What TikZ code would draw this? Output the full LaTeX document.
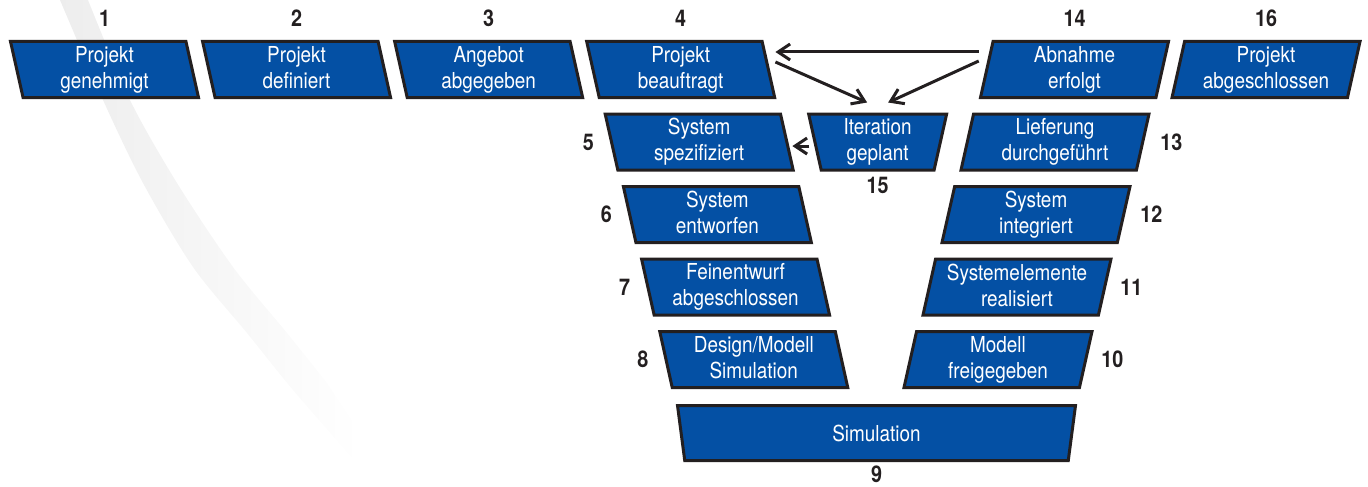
\documentclass[tikz,border=0pt]{standalone}
\usepackage{fontspec}
\setmainfont{TeX Gyre Heros}[FakeStretch=0.86]
\usepackage{tikz}
\usetikzlibrary{positioning,shapes.geometric,arrows.meta}
\definecolor{vblue}{HTML}{0450A4}
\definecolor{ink}{HTML}{231F20}
\newcommand\boxfont{\fontsize{22}{26}\selectfont}
\newcommand\numfont{\bfseries\fontsize{23}{23}\selectfont}
\newcommand\topstrut{\rule{0pt}{26pt}}
\newcommand\botstrut{\rule[-4.5pt]{0pt}{4.5pt}}
\newcommand\linetop{\rule{0pt}{22pt}}
\newcommand\linebot{\rule[-5pt]{0pt}{5pt}}
\tikzstyle{milestone} = [trapezium, trapezium stretches body, draw=ink, line width=3pt, fill=vblue, text=white, align=center, inner sep=0pt, minimum width=188pt, minimum height=56pt, font=\boxfont]
\tikzstyle{twolines} = [execute at begin node=\topstrut, execute at end node=\botstrut]
\tikzstyle{leanl} = [twolines, trapezium left angle=105, trapezium right angle=75]
\tikzstyle{leanr} = [twolines, trapezium left angle=75, trapezium right angle=105]
\tikzstyle{funnel} = [trapezium left angle=105, trapezium right angle=105]
\tikzstyle{num} = [text=ink, inner sep=0pt, font=\numfont]
\tikzstyle{arrow} = [line width=3pt, draw=ink, -{Straight Barb[length=12pt,width=16pt]}]

\begin{document}
\begin{tikzpicture}[x=1pt,y=-1pt]
    \useasboundingbox (0,0) rectangle (1368,487);

    % grey swoosh in the background
    \shade[left color=black!7, right color=white, draw=none]
      plot[smooth] coordinates {(60,0) (103,100) (143,183) (193,267) (247,333) (293,390) (360,467)}
      -- (360,433)
      -- plot[smooth] coordinates {(327,383) (287,333) (233,267) (177,183) (130,100) (88,0)}
      -- cycle;

    % top row
    \node (b1) [milestone, leanl] at (104.5,69.5) {Projekt\\genehmigt};
    \node (n1) [num, above=13pt of b1] {1};

    \node (b2) [milestone, leanl, right=13.5pt of b1] {Projekt\\definiert};
    \node (n2) [num, above=13pt of b2] {2};

    \node (b3) [milestone, leanl, right=13.5pt of b2] {Angebot\\abgegeben};
    \node (n3) [num, above=13pt of b3] {3};

    \node (b4) [milestone, leanl, right=13.5pt of b3] {Projekt\\beauftragt};
    \node (n4) [num, above=13pt of b4] {4};

    \node (b14) [milestone, leanr] at (1074.5,69.5) {Abnahme\\erfolgt};
    \node (n14) [num, above=13pt of b14] {14};

    \node (b16) [milestone, leanr, right=13pt of b14] {Projekt\\abgeschlossen};
    \node (n16) [num, above=13pt of b16] {16};

    % left branch of the V
    \node (b5) [milestone, leanl, below=13.5pt of b4, xshift=18.5pt] {System\\spezifiziert};
    \node (n5) [num, left=16pt of b5] {5};

    \node (b6) [milestone, leanl, below=13.5pt of b5, xshift=18.2pt] {System\\entworfen};
    \node (n6) [num, left=16pt of b6] {6};

    \node (b7) [milestone, leanl, below=13.5pt of b6, xshift=18.2pt] {Feinentwurf\\abgeschlossen};
    \node (n7) [num, left=16pt of b7] {7};

    \node (b8) [milestone, leanl, below=13.5pt of b7, xshift=18.2pt] {Design/Modell\\Simulation};
    \node (n8) [num, left=16pt of b8] {8};

    % bottom
    \node (b9) [milestone, funnel, minimum width=398pt, minimum height=55pt,
      execute at begin node=\linetop, execute at end node=\linebot] at (876.5,433) {Simulation};
    \node (n9) [num, below=4pt of b9] {9};

    % right branch of the V
    \node (b13) [milestone, leanr, below=13.5pt of b14, xshift=-19.5pt] {Lieferung\\durchgeführt};
    \node (n13) [num, right=16pt of b13] {13};

    \node (b12) [milestone, leanr, below=13.5pt of b13, xshift=-19pt] {System\\integriert};
    \node (n12) [num, right=15pt of b12] {12};

    \node (b11) [milestone, leanr, below=13.5pt of b12, xshift=-19pt] {Systemelemente\\realisiert};
    \node (n11) [num, right=14pt of b11] {11};

    \node (b10) [milestone, leanr, below=13.5pt of b11, xshift=-19pt] {Modell\\freigegeben};
    \node (n10) [num, right=14pt of b10] {10};

    % iteration
    \node (b15) [milestone, funnel, twolines, minimum width=138pt, right=25pt of b5] {Iteration\\geplant};
    \node (n15) [num, below=5pt of b15] {15};

    \draw [arrow, shorten <=6.5pt, shorten >=5.5pt] ([yshift=17.5pt]b14.west) -- ([yshift=17.5pt]b4.east);
    \draw [arrow] ([xshift=5.5pt,yshift=7.5pt]b4.east) -- ([xshift=-10.5pt,yshift=10pt]b15.north);
    \draw [arrow] ([xshift=-6.5pt,yshift=8.5pt]b14.west) -- ([xshift=10.5pt,yshift=10pt]b15.north);
    \draw [arrow] ([xshift=-4pt,yshift=-4pt]b15.west) -- ([xshift=4pt,yshift=-4pt]b5.east);

\end{tikzpicture}
\end{document}
